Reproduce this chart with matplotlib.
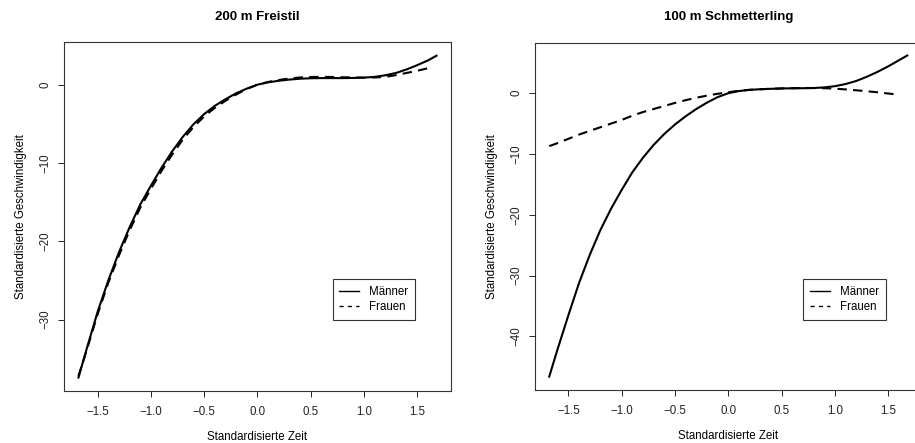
import matplotlib
matplotlib.use("Agg")
import matplotlib.pyplot as plt
from matplotlib.lines import Line2D

plt.rcParams['font.family'] = ['Liberation Sans', 'DejaVu Sans']

# standardisierte Zeit (x) fuer beide Geschlechter
x_m = [-1.68, -1.6, -1.5, -1.4, -1.3, -1.2, -1.1, -1.0, -0.9, -0.8, -0.7, -0.6,
       -0.5, -0.4, -0.3, -0.2, -0.1, 0.0, 0.1, 0.2, 0.3, 0.4, 0.5, 0.6, 0.7,
       0.8, 0.9, 1.0, 1.1, 1.2, 1.3, 1.4, 1.5, 1.6, 1.68]
x_f = x_m[:-1]

# 200 m Freistil
freistil_m = [-37.4, -33.6, -29.0, -25.0, -21.4, -18.2, -15.3, -12.9, -10.6, -8.5,
              -6.65, -5.05, -3.75, -2.7, -1.85, -1.1, -0.5, 0.0, 0.3, 0.5, 0.65,
              0.76, 0.82, 0.84, 0.84, 0.84, 0.86, 0.9, 1.0, 1.2, 1.5, 1.95, 2.5,
              3.1, 3.7]
freistil_f = [-37.2, -33.8, -29.3, -25.3, -21.8, -18.6, -15.7, -13.3, -11.0, -8.9,
              -7.0, -5.4, -4.05, -2.95, -2.05, -1.25, -0.55, 0.0, 0.35, 0.6, 0.8,
              0.92, 0.98, 1.0, 0.98, 0.95, 0.92, 0.9, 0.92, 1.0, 1.22, 1.5, 1.78,
              2.1]

# 100 m Schmetterling
schm_m = [-46.6, -42.0, -36.5, -31.2, -26.6, -22.5, -19.0, -15.9, -13.0, -10.6,
          -8.5, -6.7, -5.15, -3.8, -2.6, -1.55, -0.65, 0.0, 0.35, 0.55, 0.65,
          0.72, 0.78, 0.8, 0.82, 0.85, 0.95, 1.15, 1.5, 2.0, 2.7, 3.5, 4.4, 5.4,
          6.2]
schm_f = [-8.7, -8.2, -7.5, -6.8, -6.2, -5.6, -5.0, -4.4, -3.7, -3.1, -2.6, -2.1,
          -1.6, -1.15, -0.75, -0.4, -0.1, 0.15, 0.4, 0.55, 0.65, 0.72, 0.78,
          0.82, 0.85, 0.85, 0.82, 0.75, 0.62, 0.48, 0.32, 0.15, -0.05, -0.25]

xticks = [-1.5, -1.0, -0.5, 0.0, 0.5, 1.0, 1.5]
titles = ["200 m Freistil", "100 m Schmetterling"]
labels = ["Männer", "Frauen"]

fig = plt.figure(figsize=(9.15, 4.43), dpi=100)
ax1 = fig.add_axes([0.0699, 0.1185, 0.4230, 0.7867])
ax2 = fig.add_axes([0.5844, 0.1196, 0.4230, 0.7840])

panels = [
    (ax1, freistil_m, freistil_f, (-39.05, 5.45), [0, -10, -20, -30]),
    (ax2, schm_m, schm_f, (-48.8, 8.3), [0, -10, -20, -30, -40]),
]

for i, (ax, ym, yf, ylim, yticks) in enumerate(panels):
    ax.plot(x_m, ym, color='black', lw=1.5, ls='-')
    ax.plot(x_f, yf, color='black', lw=1.5, ls=(0, (4.5, 3)))
    ax.set_xlim(-1.816, 1.816)
    ax.set_ylim(*ylim)
    ax.set_xticks(xticks)
    ax.set_xticklabels(["%.1f" % t if t >= 0 else "\u2212%.1f" % -t for t in xticks])
    ax.set_yticks(yticks)
    ax.set_yticklabels([str(t) if t >= 0 else "\u2212%d" % -t for t in yticks],
                       rotation=90, va='center')
    ax.tick_params(direction='out', length=4.3, width=0.7, labelsize=8.3,
                   colors='#222222')
    ax.tick_params(axis='x', pad=6.5)
    ax.tick_params(axis='y', pad=4.5)
    for sp in ax.spines.values():
        sp.set_linewidth(0.8)
        sp.set_color('#333333')
    ax.set_title(titles[i], fontsize=9.5, fontweight='bold', pad=16)
    ax.set_xlabel("Standardisierte Zeit", fontsize=8.3, labelpad=9.5)
    ax.set_ylabel("Standardisierte Geschwindigkeit", fontsize=8.3, labelpad=9)

    handles = [Line2D([], [], color='black', lw=1.0, ls='-'),
               Line2D([], [], color='black', lw=1.0, ls=(0, (3, 3)))]
    leg = ax.legend(handles, labels, loc='upper left', bbox_to_anchor=(0.694, 0.32),
                    fontsize=8.3, frameon=True, fancybox=False, framealpha=1,
                    edgecolor='#333333', handlelength=1.7, handletextpad=0.9,
                    borderpad=0.6, labelspacing=0.25, borderaxespad=0)
    leg.get_frame().set_linewidth(0.8)

fig.savefig("out.png", dpi=100)
